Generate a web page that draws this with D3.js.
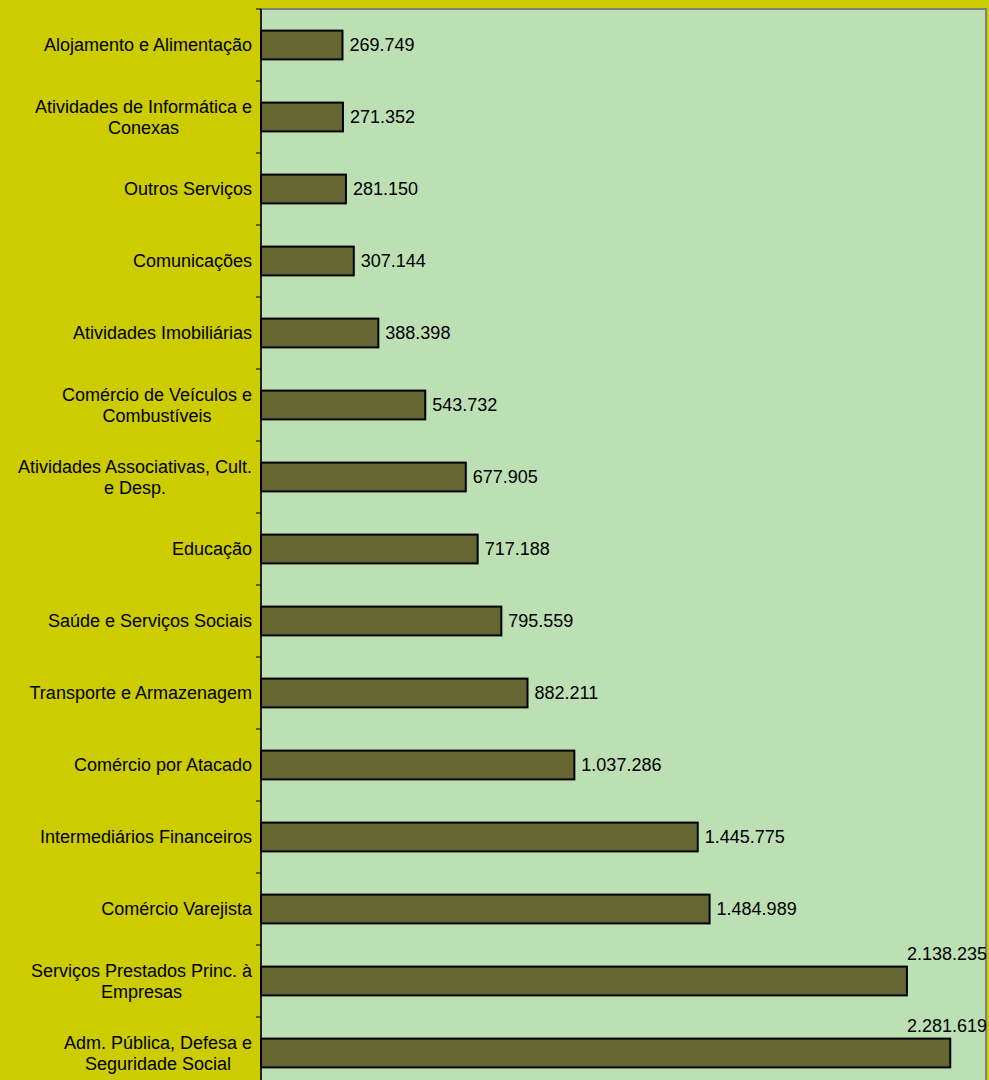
<!DOCTYPE html>
<html><head><meta charset="utf-8">
<script src="https://cdn.jsdelivr.net/npm/d3@7"></script>
<style>html,body{margin:0;padding:0;background:#CCCC00;overflow:hidden}svg{display:block}</style>
</head><body>
<script>
const categories = [
  "Alojamento e Alimentação",
  "Atividades de Informática e Conexas",
  "Outros Serviços",
  "Comunicações",
  "Atividades Imobiliárias",
  "Comércio de Veículos e Combustíveis",
  "Atividades Associativas, Cult. e Desp.",
  "Educação",
  "Saúde e Serviços Sociais",
  "Transporte e Armazenagem",
  "Comércio por Atacado",
  "Intermediários Financeiros",
  "Comércio Varejista",
  "Serviços Prestados Princ. à Empresas",
  "Adm. Pública, Defesa e Seguridade Social"
];
const values = [269749, 271352, 281150, 307144, 388398, 543732, 677905, 717188, 795559, 882211, 1037286, 1445775, 1484989, 2138235, 2281619];
const xDomain = [0, 2400000];

(function () {
const W = 989, H = 1080;
const pLeft = 261, pRight = 986, pTop = 9, pBottom = 1089;
const fontSize = 18;

const svg = d3.select("body").append("svg").attr("width", W).attr("height", H)
  .style("font-family", "Arial, 'Liberation Sans', sans-serif");

svg.append("rect").attr("width", W).attr("height", H).attr("fill", "#CCCC00");

const x = d3.scaleLinear().domain(xDomain).range([pLeft, pRight]);
const y = d3.scaleBand().domain(categories).range([pTop, pBottom]).paddingInner(0.6).paddingOuter(0.3);

svg.append("rect").attr("x", pLeft).attr("y", pTop).attr("width", pRight - pLeft).attr("height", pBottom - pTop)
  .attr("fill", "#BDDFB4").attr("stroke", "#808080").attr("stroke-width", 2);

const fmt = d3.formatLocale({decimal: ",", thousands: ".", grouping: [3], currency: ["R$", ""]}).format(",d");

svg.append("g").selectAll("rect").data(categories).join("rect")
  .attr("x", x(0))
  .attr("y", d => y(d))
  .attr("width", (d, i) => x(values[i]) - x(0))
  .attr("height", y.bandwidth())
  .attr("fill", "#666633").attr("stroke", "#000").attr("stroke-width", 2);

const step = y.step();
const ticks = d3.range(categories.length + 1).map(i => pTop + i * step);
const ax = svg.append("g");
ax.append("line").attr("x1", pLeft).attr("x2", pLeft).attr("y1", pTop).attr("y2", pBottom).attr("stroke", "#000").attr("stroke-width", 1.5);
ax.selectAll("line.t").data(ticks).join("line").attr("class", "t")
  .attr("x1", pLeft - 5).attr("x2", pLeft).attr("y1", d => d).attr("y2", d => d)
  .attr("stroke", "#000").attr("stroke-width", 1);

const maxW = 242, lineH = 21;
const catG = svg.append("g").attr("font-size", fontSize).attr("fill", "#000");
categories.forEach(c => {
  const words = c.split(" ");
  const lines = [];
  let cur = "";
  const tmp = catG.append("text").attr("visibility", "hidden");
  words.forEach(w => {
    const test = cur ? cur + " " + w : w;
    tmp.text(test);
    if (tmp.node().getComputedTextLength() > maxW && cur) { lines.push(cur); cur = w; }
    else cur = test;
  });
  lines.push(cur);
  let maxLen = 0;
  lines.forEach(l => { tmp.text(l); maxLen = Math.max(maxLen, tmp.node().getComputedTextLength()); });
  tmp.remove();
  const cx = 252 - maxLen / 2;
  const cy = y(c) + y.bandwidth() / 2;
  const t = catG.append("text").attr("text-anchor", "middle");
  lines.forEach((l, i) => {
    t.append("tspan").attr("x", cx)
      .attr("y", cy + (i - (lines.length - 1) / 2) * lineH)
      .attr("dy", "0.35em").text(l);
  });
});

const valG = svg.append("g").attr("font-size", fontSize).attr("fill", "#000");
categories.forEach((c, i) => {
  const t = valG.append("text").text(fmt(values[i]));
  const tw = t.node().getComputedTextLength();
  const end = x(values[i]);
  const cy = y(c) + y.bandwidth() / 2;
  if (end + 7 + tw > W - 2) {
    t.attr("x", Math.min(end + 7, W - tw - 2)).attr("y", cy - 27).attr("dy", "0.35em");
  } else {
    t.attr("x", end + 7).attr("y", cy).attr("dy", "0.35em");
  }
});
})();
</script>
</body></html>
